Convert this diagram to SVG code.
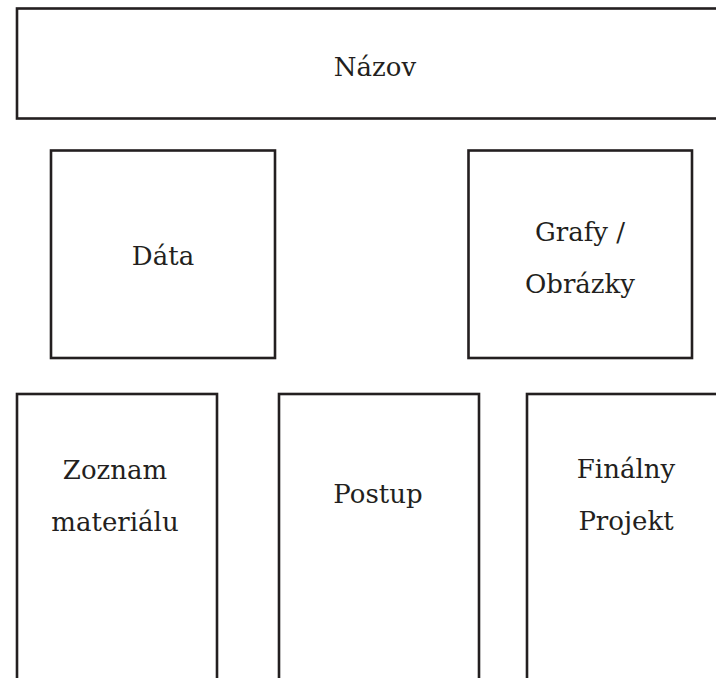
<svg xmlns="http://www.w3.org/2000/svg" width="716" height="678" viewBox="0 0 716 678">
<style>
.box{fill:#ffffff;stroke:#231f20;stroke-width:2.6}
.lbl{font-family:"DejaVu Serif","Liberation Serif",serif;font-size:26px;fill:#231f20;text-anchor:middle}
</style>
<rect width="716" height="678" fill="#ffffff"/>
<g id="nazov"><rect class="box" x="17" y="8.5" width="716" height="110"/><text class="lbl" x="375" y="76">Názov</text></g>
<g id="data"><rect class="box" x="51" y="150.5" width="224" height="207.5"/><text class="lbl" x="163" y="265">Dáta</text></g>
<g id="grafy"><rect class="box" x="468.5" y="150.5" width="223.5" height="207.5"/><text class="lbl" x="580" y="241">Grafy /</text><text class="lbl" x="580" y="293">Obrázky</text></g>
<g id="zoznam"><rect class="box" x="17" y="394" width="200" height="300"/><text class="lbl" x="115" y="479">Zoznam</text><text class="lbl" x="115" y="531">materiálu</text></g>
<g id="postup"><rect class="box" x="279" y="394" width="200" height="300"/><text class="lbl" x="378" y="503">Postup</text></g>
<g id="finalny"><rect class="box" x="527" y="394" width="200" height="300"/><text class="lbl" x="626" y="478">Finálny</text><text class="lbl" x="626" y="530">Projekt</text></g>
<g id="connectors"></g>
</svg>
